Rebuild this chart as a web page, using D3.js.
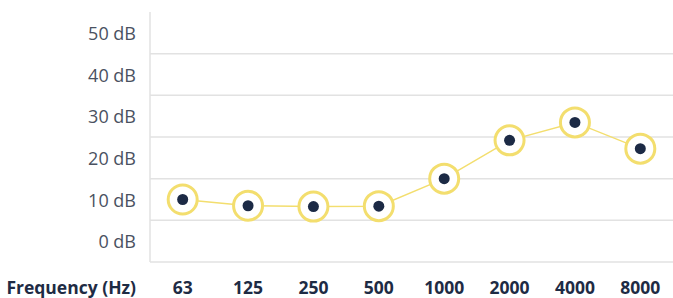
<!DOCTYPE html>
<html>
<head>
<meta charset="utf-8">
<script src="https://cdn.jsdelivr.net/npm/d3@7"></script>
<style>
  html, body { margin: 0; padding: 0; background: #fff; }
  svg { display: block; font-family: "Open Sans", sans-serif; }
</style>
</head>
<body>
<script>
  var frequencies = ["63", "125", "250", "500", "1000", "2000", "4000", "8000"];
  var levels = [10, 8.5, 8.3, 8.4, 15, 24.2, 28.5, 22.2];
  var yTicks = [0, 10, 20, 30, 40, 50];
  var gridValues = [5, 15, 25, 35, 45];

  var width = 673, height = 298;
  var plotLeft = 150, plotRight = 673, plotTop = 12, plotBottom = 262;

  var svg = d3.select("body")
    .append("svg")
    .attr("width", width)
    .attr("height", height);

  var x = d3.scaleBand()
    .domain(frequencies)
    .range([plotLeft, plotRight]);

  var y = d3.scaleLinear()
    .domain([-5, 55])
    .range([plotBottom, plotTop]);

  // grid lines sit between the labels
  svg.selectAll("line.grid")
    .data(gridValues)
  .enter()
    .append("line")
    .attr("class", "grid")
    .attr("x1", plotLeft)
    .attr("x2", plotRight)
    .attr("y1", function (d) { return y(d); })
    .attr("y2", function (d) { return y(d); })
    .style("stroke", "#e2e2e2")
    .style("stroke-width", 1.5);

  // bottom and left frame
  svg.append("line")
    .attr("x1", plotLeft).attr("x2", plotRight)
    .attr("y1", y(-5)).attr("y2", y(-5))
    .style("stroke", "#e2e2e2")
    .style("stroke-width", 1.5);

  svg.append("line")
    .attr("x1", plotLeft).attr("x2", plotLeft)
    .attr("y1", y(55)).attr("y2", y(-5))
    .style("stroke", "#e2e2e2")
    .style("stroke-width", 1.5);

  svg.selectAll("text.ylab")
    .data(yTicks)
  .enter()
    .append("text")
    .attr("class", "ylab")
    .attr("x", 136)
    .attr("y", function (d) { return y(d) + 1; })
    .attr("dy", "0.35em")
    .attr("text-anchor", "end")
    .style("font-size", "18px")
    .style("fill", "#4a5161")
    .text(function (d) { return d + " dB"; });

  svg.selectAll("text.xlab")
    .data(frequencies)
  .enter()
    .append("text")
    .attr("class", "xlab")
    .attr("x", function (d) { return x(d) + x.bandwidth() / 2; })
    .attr("y", 294)
    .attr("text-anchor", "middle")
    .style("font-size", "17.5px")
    .style("font-weight", "bold")
    .style("fill", "#1e2b44")
    .text(function (d) { return d; });

  svg.append("text")
    .attr("x", 136)
    .attr("y", 294)
    .attr("text-anchor", "end")
    .style("font-size", "17.5px")
    .style("font-weight", "bold")
    .style("fill", "#1e2b44")
    .text("Frequency (Hz)");

  var points = frequencies.map(function (f, i) { return { f: f, v: levels[i] }; });

  var line = d3.line()
    .x(function (d) { return x(d.f) + x.bandwidth() / 2; })
    .y(function (d) { return y(d.v); });

  svg.append("path")
    .datum(points)
    .attr("d", line)
    .style("fill", "none")
    .style("stroke", "#f3de6e")
    .style("stroke-width", 1.5);

  svg.selectAll("circle.ring")
    .data(points)
  .enter()
    .append("circle")
    .attr("class", "ring")
    .attr("cx", function (d) { return x(d.f) + x.bandwidth() / 2; })
    .attr("cy", function (d) { return y(d.v); })
    .attr("r", 14.5)
    .style("fill", "white")
    .style("stroke", "#f3de6e")
    .style("stroke-width", 3);

  svg.selectAll("circle.dot")
    .data(points)
  .enter()
    .append("circle")
    .attr("class", "dot")
    .attr("cx", function (d) { return x(d.f) + x.bandwidth() / 2; })
    .attr("cy", function (d) { return y(d.v); })
    .attr("r", 5.5)
    .style("fill", "#1c2a45");
</script>
</body>
</html>
